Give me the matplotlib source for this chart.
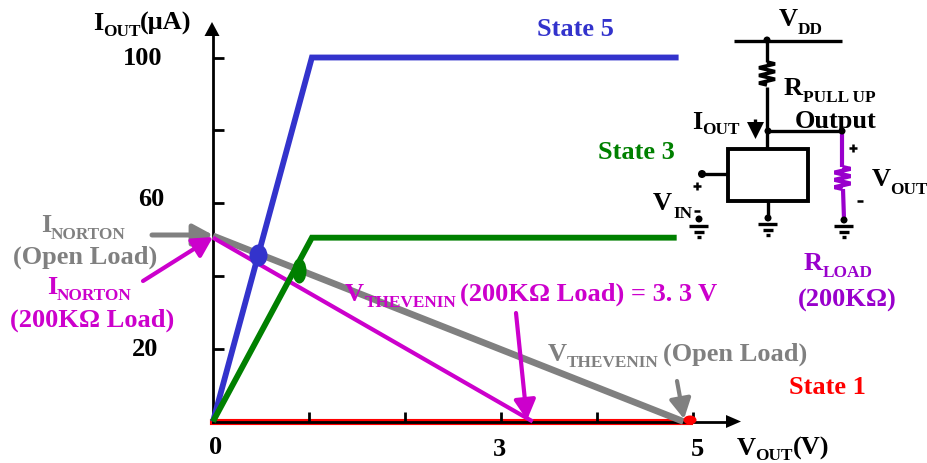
import matplotlib
matplotlib.use("Agg")
import matplotlib.pyplot as plt
from matplotlib.patches import Ellipse, Polygon, Rectangle

plt.rcParams['font.family'] = ['Liberation Serif', 'DejaVu Serif']
plt.rcParams['font.weight'] = 'bold'

# chart values
state5_v = [0, 1.03, 4.85]
state5_i = [0, 100, 100]
state3_v = [0, 1.03, 4.83]
state3_i = [0, 50.5, 50.5]
state1_v = [0, 4.97]
state1_i = [0, 0]
open_load_v = [0, 4.9]
open_load_i = [51, 0]
load_200k_v = [0, 3.33]
load_200k_i = [50.5, 0]
x_ticks = [1, 2, 3, 4, 5]
y_ticks = [20, 40, 60, 80, 100]

BLUE = '#3333CC'
GREEN = '#008000'
RED = '#FF0000'
MAGENTA = '#CC00CC'
GRAY = '#808080'
PURPLE = '#9900CC'

W, H = 927, 464
x0, y0 = 213, 422.5
sx, sy = 96.0, 3.64

fig = plt.figure(figsize=(W / 100, H / 100), dpi=100)
ax = fig.add_axes([0, 0, 1, 1])
ax.set_xlim(-x0 / sx, (W - x0) / sx)
ax.set_ylim((y0 - H) / sy, y0 / sy)

ax.plot(state1_v, state1_i, color=RED, lw=4.4, zorder=1)
ax.plot(open_load_v, open_load_i, color=GRAY, lw=4.8, zorder=3, solid_capstyle='butt')
ax.plot(load_200k_v, load_200k_i, color=MAGENTA, lw=3, zorder=3.2, solid_capstyle='butt')
ax.plot(state5_v, state5_i, color=BLUE, lw=4.2, zorder=3.4, solid_capstyle='butt', solid_joinstyle='miter')
ax.plot(state3_v, state3_i, color=GREEN, lw=4.2, zorder=3.4, solid_capstyle='butt', solid_joinstyle='miter')

for s in ['top', 'right']:
    ax.spines[s].set_visible(False)
ax.spines['left'].set_position(('data', 0))
ax.spines['bottom'].set_position(('data', 0))
ax.spines['left'].set_bounds(0, (y0 - 35) / sy)
ax.spines['bottom'].set_bounds(0, (728 - x0) / sx)
ax.spines['left'].set_linewidth(2)
ax.spines['bottom'].set_linewidth(2)
ax.set_xticks(x_ticks)
ax.set_yticks(y_ticks)
ax.set_xticklabels([])
ax.set_yticklabels([])
ax.tick_params(axis='x', direction='in', length=7, width=2)
ax.tick_params(axis='y', direction='in', length=8, width=2)

# overlay in pixel coordinates for labels and the schematic
ov = fig.add_axes([0, 0, 1, 1])
ov.set_xlim(0, W)
ov.set_ylim(H, 0)
ov.axis('off')
ov.patch.set_alpha(0)


def label(x, y, s, color='black', size=19, ha='left'):
    ov.text(x, y + 1, s, color=color, fontsize=size, ha=ha, va='baseline', fontweight='bold')


def sub(x, y, s, color='black', size=12.4):
    ov.text(x, y + 1, s, color=color, fontsize=size, ha='left', va='baseline', fontweight='bold')


def wire(xs, ys, color='black', lw=2.4):
    ov.plot(xs, ys, color=color, lw=lw, solid_capstyle='butt', solid_joinstyle='miter')


def dot(x, y, color='black', w=7, h=7):
    ov.add_patch(Ellipse((x, y), w, h, color=color, lw=0, zorder=5))


def ground(x, y):
    wire([x - 9.5, x + 9.5], [y, y])
    wire([x - 5, x + 5], [y + 6, y + 6])
    wire([x - 2, x + 2], [y + 11, y + 11])


def resistor(x, y_top, y_bot, half, color='black', lw=2.6):
    n = 6
    step = (y_bot - y_top) / n
    xs = [x]
    ys = [y_top]
    for i in range(n):
        xs.append(x + (half if i % 2 == 0 else -half))
        ys.append(y_top + step * (i + 0.5))
    xs.append(x)
    ys.append(y_bot)
    wire(xs, ys, color=color, lw=lw)


def arrow(start, end, color, lw):
    ov.annotate('', xy=end, xytext=start,
                arrowprops=dict(arrowstyle='-|>,head_width=0.65,head_length=1.2',
                                color=color, lw=lw, shrinkA=0, shrinkB=0,
                                mutation_scale=10))


# axis arrow heads
ov.add_patch(Polygon([(212, 23), (204.5, 37), (219.5, 37)], color='black', lw=0))
ov.add_patch(Polygon([(741, 422.5), (726, 416), (726, 429)], color='black', lw=0))

# operating point blobs and end dot
ov.add_patch(Ellipse((258.5, 256.5), 18, 22, color=BLUE, lw=0))
ov.add_patch(Ellipse((299.5, 272), 14, 25, color=GREEN, lw=0))
ov.add_patch(Ellipse((690, 421), 13, 9, color=RED, lw=0, zorder=5))

# annotation arrows
arrow((152, 236), (213, 236), GRAY, 3.6)
arrow((143, 282), (213, 238), MAGENTA, 3)
arrow((516, 314), (527, 421), MAGENTA, 3)
arrow((677, 382), (684, 420), GRAY, 3)

# axis labels
label(93, 29, 'I')
sub(103, 35, 'OUT')
label(140, 29, '(μA)')
label(162, 64, '100', ha='right')
label(164, 205, '60', ha='right')
label(158, 355, '20', ha='right')
label(216, 453, '0', ha='center')
label(499, 455, '3', ha='center')
label(697, 455, '5', ha='center')
label(737, 454, 'V')
sub(755, 459, 'OUT')
label(793, 454, '(V)')

# state labels
label(537, 35, 'State 5', BLUE)
label(598, 158, 'State 3', GREEN)
label(789, 393, 'State 1', RED)

# callouts
label(41, 231, 'I', GRAY)
sub(51, 238, 'NORTON', GRAY)
label(13, 263, '(Open Load)', GRAY)
label(47, 293, 'I', MAGENTA)
sub(57, 299, 'NORTON', MAGENTA)
label(10, 326, '(200KΩ Load)', MAGENTA)
label(345, 300, 'V', MAGENTA)
sub(365, 306, 'THEVENIN', MAGENTA)
label(460, 300, '(200KΩ Load) = 3. 3 V', MAGENTA)
label(548, 360, 'V', GRAY)
sub(567, 366, 'THEVENIN', GRAY)
label(663, 360, '(Open Load)', GRAY)

# schematic
wire([734, 842], [42, 42])
dot(767, 41)
wire([767, 767], [42, 63])
resistor(767, 63, 86, 8)
wire([767, 767], [88, 150])
dot(768, 132)
wire([768, 842], [132, 132])
dot(842, 132)
ov.add_patch(Rectangle((728, 150), 80, 52, fill=False, ec='black', lw=2.8))
dot(702, 175, w=8, h=8)
wire([702, 728], [175, 175])
wire([768, 768], [202, 219])
dot(768, 219)
ground(768, 225)
dot(699, 220)
ground(699, 227)
wire([842, 842], [132, 168], color=PURPLE, lw=3)
resistor(842.5, 168, 190, 8, color=PURPLE, lw=3)
wire([843, 844], [190, 220], color=PURPLE, lw=3)
dot(844, 221)
ground(844, 227)
ov.add_patch(Polygon([(747, 123), (764, 123), (755.5, 140)], color='black', lw=0))
wire([755.5, 755.5], [120, 124])
wire([849, 857], [149, 149], lw=1.8)
wire([853, 853], [145, 153], lw=1.8)
wire([693, 701], [187, 187], lw=1.8)
wire([697, 697], [183, 191], lw=1.8)
wire([857, 863], [202, 202], lw=1.8)
wire([694, 700], [212, 212], lw=1.8)

label(779, 25, 'V')
sub(798, 33, 'DD')
label(784, 94, 'R')
sub(803, 101, 'PULL UP')
label(795, 127, 'Output')
label(692, 128, 'I')
sub(702, 133, 'OUT')
label(872, 185, 'V')
sub(890, 193, 'OUT')
label(653, 209, 'V')
sub(673, 217, 'IN')
label(804, 269, 'R', PURPLE)
sub(823, 276, 'LOAD', PURPLE)
label(798, 306, '(200KΩ)', PURPLE)

fig.savefig('out.png', dpi=100)
